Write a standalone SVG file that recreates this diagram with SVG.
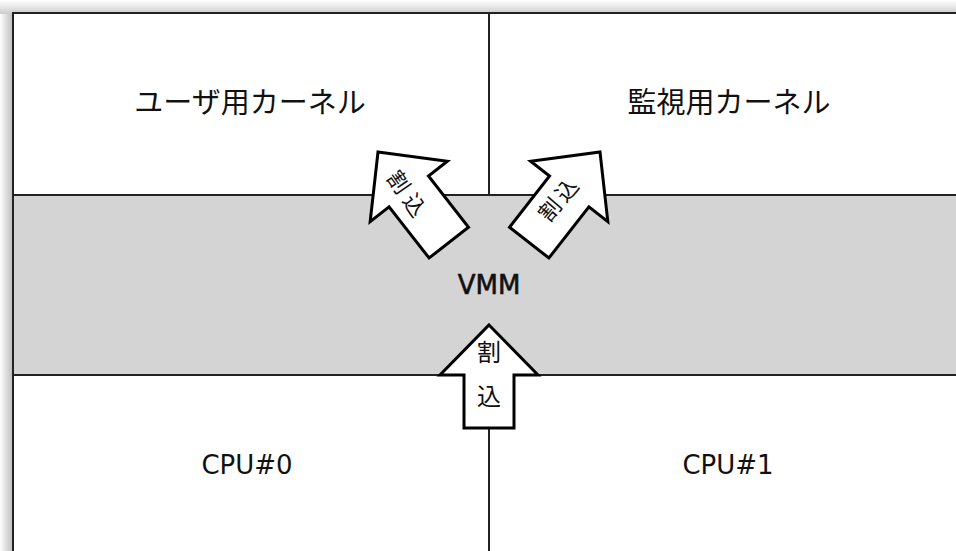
<svg xmlns="http://www.w3.org/2000/svg" width="956" height="551" viewBox="0 0 956 551">
<defs>
<linearGradient id="shL" x1="0" y1="0" x2="1" y2="0">
<stop offset="0" stop-color="#ffffff"/><stop offset="1" stop-color="#bbbbbb"/>
</linearGradient>
<linearGradient id="shT" x1="0" y1="0" x2="0" y2="1">
<stop offset="0" stop-color="#ffffff"/><stop offset="1" stop-color="#cccccc"/>
</linearGradient>
<polygon id="arrS" points="0,0 49,50 25,50 25,103 -25,103 -25,50 -49,50"/>
<polygon id="arrL" points="0,0 49,50 25,50 25,115 -25,115 -25,50 -49,50"/>
</defs>
<style>
.lbl{font-family:"Noto Sans CJK JP","DejaVu Sans",sans-serif;font-size:29px;fill:#111;text-anchor:middle;dominant-baseline:central}
.lat{font-family:"DejaVu Sans",sans-serif;font-size:26px;fill:#111;text-anchor:middle;dominant-baseline:central}
.arr{fill:#fff;stroke:#000;stroke-width:3;stroke-linejoin:miter}
.at{font-family:"Noto Sans CJK JP",sans-serif;fill:#111;text-anchor:middle;dominant-baseline:central}
.ln{stroke:#222;stroke-width:2;fill:none}
</style>
<rect x="0" y="0" width="956" height="551" fill="#fff"/>
<rect x="0" y="0" width="13" height="551" fill="url(#shL)"/>
<rect x="0" y="0" width="956" height="14" fill="url(#shT)"/>
<rect x="13" y="14" width="943" height="537" fill="#fff"/>
<rect x="13" y="195" width="943" height="180" fill="#d4d4d4"/>
<g id="frame">
<line class="ln" x1="12" y1="13" x2="956" y2="13"/>
<line class="ln" x1="13" y1="13" x2="13" y2="551"/>
<line class="ln" x1="13" y1="195" x2="956" y2="195"/>
<line class="ln" x1="13" y1="375" x2="956" y2="375"/>
<line class="ln" x1="489" y1="14" x2="489" y2="195"/>
<line class="ln" x1="489" y1="375" x2="489" y2="551"/>
</g>
<g id="user-kernel"><text class="lbl" x="250" y="100">ユーザ用カーネル</text></g>
<g id="monitor-kernel"><text class="lbl" x="729" y="100">監視用カーネル</text></g>
<g id="vmm"><text class="lat" x="489" y="285" font-size="27" stroke="#111" stroke-width="0.6">VMM</text></g>
<g id="cpu0"><text class="lat" x="247" y="465">CPU#0</text></g>
<g id="cpu1"><text class="lat" x="728" y="465">CPU#1</text></g>
<g id="connectors">
<g id="arrow-left">
<use href="#arrL" class="arr" transform="translate(378,152) rotate(-38)"/>
<text class="at" x="410" y="195" font-size="22" letter-spacing="6" transform="rotate(55 410 195)">割込</text>
</g>
<g id="arrow-right">
<use href="#arrL" class="arr" transform="translate(600,152) rotate(38)"/>
<text class="at" x="558" y="197" font-size="22" letter-spacing="4" transform="rotate(-50 558 197)">割込</text>
</g>
<g id="arrow-bottom">
<use href="#arrS" class="arr" transform="translate(489,325)"/>
<text class="at" x="489" y="350" font-size="24">割</text>
<text class="at" x="489" y="394" font-size="24">込</text>
</g>
</g>
</svg>
